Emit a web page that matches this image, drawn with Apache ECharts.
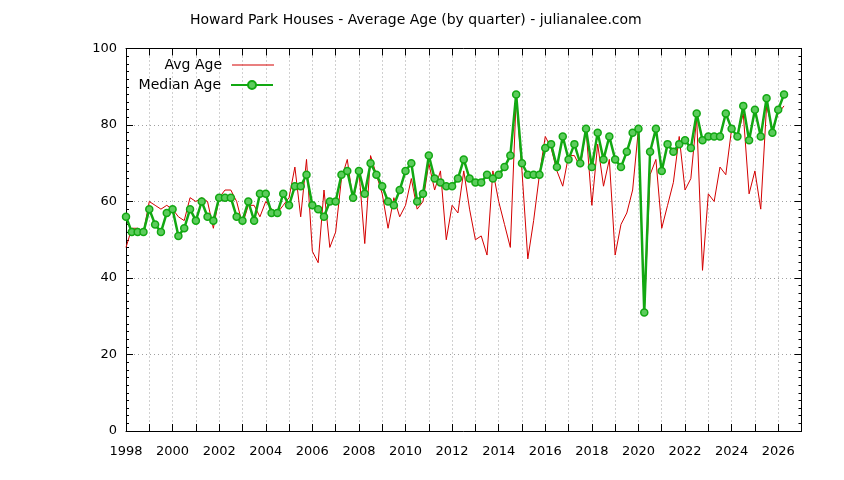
<!DOCTYPE html>
<html>
<head>
<meta charset="utf-8">
<script src="https://cdn.jsdelivr.net/npm/echarts@6/dist/echarts.min.js"></script>
<style>
  html, body { margin: 0; padding: 0; background: #fff; }
  #chart { width: 844px; height: 480px; }
</style>
</head>
<body>
<div id="chart"></div>
<script>
// Quarterly data, first quarter = 1998 Q1, one value per quarter (4 per row = 1 year)
const startYear = 1998;
const seriesNames = ['Avg Age', 'Median Age'];
const xTickYears = [1998, 2000, 2002, 2004, 2006, 2008, 2010, 2012, 2014, 2016, 2018, 2020, 2022, 2024, 2026];

const avgAge = [
  48, 53, 53, 52,   // 1998
  60, 59, 58, 59,   // 1999
  58, 56, 55, 61,   // 2000
  60, 61, 60, 53,   // 2001
  61, 63, 63, 60,   // 2002
  54, 59, 59, 56,   // 2003
  60, 58, 57, 59,   // 2004
  61, 69, 56, 71,   // 2005
  47, 44, 63, 48,   // 2006
  52, 66, 71, 60,   // 2007
  68, 49, 72, 67,   // 2008
  62, 53, 61, 56,   // 2009
  59, 66, 58, 60,   // 2010
  70, 63, 68, 50,   // 2011
  59, 57, 68, 58,   // 2012
  50, 51, 46, 68,   // 2013
  60, 54, 48, 87,   // 2014
  68, 45, 55, 67,   // 2015
  77, 74, 68, 64,   // 2016
  72, 72, 69, 79,   // 2017
  59, 75, 64, 71,   // 2018
  46, 54, 57, 63,   // 2019
  79, 31, 67, 71,   // 2020
  53, 59, 65, 77,   // 2021
  63, 66, 82, 42,   // 2022
  62, 60, 69, 67,   // 2023
  79, 77, 83, 62,   // 2024
  68, 58, 85, 79,   // 2025
  83, 85            // 2026
];

const medianAge = [
  56, 52, 52, 52,   // 1998
  58, 54, 52, 57,   // 1999
  58, 51, 53, 58,   // 2000
  55, 60, 56, 55,   // 2001
  61, 61, 61, 56,   // 2002
  55, 60, 55, 62,   // 2003
  62, 57, 57, 62,   // 2004
  59, 64, 64, 67,   // 2005
  59, 58, 56, 60,   // 2006
  60, 67, 68, 61,   // 2007
  68, 62, 70, 67,   // 2008
  64, 60, 59, 63,   // 2009
  68, 70, 60, 62,   // 2010
  72, 66, 65, 64,   // 2011
  64, 66, 71, 66,   // 2012
  65, 65, 67, 66,   // 2013
  67, 69, 72, 88,   // 2014
  70, 67, 67, 67,   // 2015
  74, 75, 69, 77,   // 2016
  71, 75, 70, 79,   // 2017
  69, 78, 71, 77,   // 2018
  71, 69, 73, 78,   // 2019
  79, 31, 73, 79,   // 2020
  68, 75, 73, 75,   // 2021
  76, 74, 83, 76,   // 2022
  77, 77, 77, 83,   // 2023
  79, 77, 85, 76,   // 2024
  84, 77, 87, 78,   // 2025
  84, 88            // 2026
];

function quarterTime(i) { return startYear + i * 0.25; }
const avgData = avgAge.map((v, i) => [quarterTime(i), v]);
const medData = medianAge.map((v, i) => [quarterTime(i), v]);

const FONT = 'DejaVu Sans';
const RED = '#d40000';
const GREEN = '#12a812';
const gridLine = { show: true, lineStyle: { color: '#a0a0a0', width: 1, type: [1, 3] } };
const axisLineBlack = { show: true, onZero: false, lineStyle: { color: '#000', width: 1 } };

const chart = echarts.init(document.getElementById('chart'), null, { renderer: 'canvas' });
chart.setOption({
  animation: false,
  backgroundColor: '#fff',
  title: {
    text: 'Howard Park Houses - Average Age (by quarter) - julianalee.com',
    left: 190, top: 13, padding: 0,
    textStyle: { fontFamily: FONT, fontSize: 14, fontWeight: 'normal', color: '#000' }
  },
  legend: [
    {
      data: [{ name: seriesNames[0], icon: 'rect' }], orient: 'vertical', align: 'right',
      right: 570, top: 58, padding: 0,
      itemWidth: 42, itemHeight: 1,
      itemStyle: { color: RED },
      textStyle: { fontFamily: FONT, fontSize: 14, color: '#000', padding: [0, 5, 0, 0] }
    },
    {
      data: [seriesNames[1]], orient: 'vertical', align: 'right',
      right: 570, top: 78, padding: 0,
      itemWidth: 42, itemHeight: 10,
      textStyle: { fontFamily: FONT, fontSize: 14, color: '#000', padding: [0, 5, 0, 0] }
    }
  ],
  grid: { left: 126, right: 42.5, top: 48.5, bottom: 49, containLabel: false },
  xAxis: [
    {
      type: 'value', min: 1998, max: 2027, interval: 1,
      axisLine: axisLineBlack,
      axisTick: { show: true, inside: true, length: 7, lineStyle: { color: '#000' } },
      axisLabel: {
        margin: 14, fontFamily: FONT, fontSize: 13, color: '#000',
        formatter: v => (xTickYears.indexOf(v) >= 0 ? String(v) : '')
      },
      splitLine: gridLine
    },
    {
      type: 'value', position: 'top', min: 1998, max: 2027, interval: 1,
      axisLine: axisLineBlack,
      axisTick: { show: true, inside: true, length: 7, lineStyle: { color: '#000' } },
      axisLabel: { show: false },
      splitLine: { show: false }
    }
  ],
  yAxis: [
    {
      type: 'value', min: 0, max: 100, interval: 20,
      axisLine: axisLineBlack,
      axisTick: { show: true, inside: true, length: 7, lineStyle: { color: '#000' } },
      minorTick: { show: true, splitNumber: 10, length: 3, lineStyle: { color: '#000' } },
      axisLabel: { margin: 9, fontFamily: FONT, fontSize: 13, color: '#000' },
      splitLine: gridLine
    },
    {
      type: 'value', position: 'right', min: 0, max: 100, interval: 20,
      axisLine: axisLineBlack,
      axisTick: { show: true, inside: true, length: 7, lineStyle: { color: '#000' } },
      minorTick: { show: true, splitNumber: 10, length: 3, lineStyle: { color: '#000' } },
      axisLabel: { show: false },
      splitLine: { show: false }
    }
  ],
  series: [
    {
      name: seriesNames[0], type: 'line', data: avgData,
      xAxisIndex: 0, yAxisIndex: 0,
      symbol: 'none', z: 2,
      lineStyle: { color: RED, width: 1 },
      itemStyle: { color: RED }
    },
    {
      name: seriesNames[1], type: 'line', data: medData,
      xAxisIndex: 0, yAxisIndex: 0,
      symbol: 'circle', symbolSize: 7, showAllSymbol: true, z: 3,
      lineStyle: { color: GREEN, width: 2.5 },
      itemStyle: { color: '#5ccc5c', borderColor: GREEN, borderWidth: 1.5 }
    }
  ]
});
</script>
</body>
</html>
